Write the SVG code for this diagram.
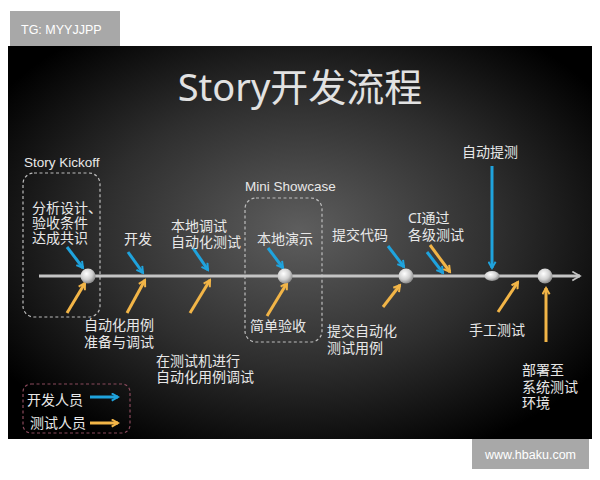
<svg xmlns="http://www.w3.org/2000/svg" width="600" height="480" viewBox="0 0 600 480">
<defs>
<radialGradient id="bg" cx="50%" cy="47%" r="62%">
<stop offset="0" stop-color="#5e5e5e"/>
<stop offset="0.55" stop-color="#2e2e2e"/>
<stop offset="1" stop-color="#000"/>
</radialGradient>
<radialGradient id="dot" cx="40%" cy="35%" r="65%">
<stop offset="0" stop-color="#ffffff"/>
<stop offset="0.6" stop-color="#d0d0d0"/>
<stop offset="1" stop-color="#8a8a8a"/>
</radialGradient>
<marker id="mb" viewBox="0 0 10 10" refX="8" refY="5" markerWidth="9" markerHeight="9" markerUnits="userSpaceOnUse" orient="auto">
<path d="M1,1 L8,5 L1,9" fill="none" stroke="#1fa3dd" stroke-width="2.2"/>
</marker>
<marker id="mo" viewBox="0 0 10 10" refX="8" refY="5" markerWidth="9" markerHeight="9" markerUnits="userSpaceOnUse" orient="auto">
<path d="M1,1 L8,5 L1,9" fill="none" stroke="#f2b547" stroke-width="2.2"/>
</marker>
<marker id="mg" viewBox="0 0 10 10" refX="8" refY="5" markerWidth="11" markerHeight="11" markerUnits="userSpaceOnUse" orient="auto">
<path d="M1,1 L8,5 L1,9" fill="none" stroke="#c4c4c4" stroke-width="1.6"/>
</marker>
</defs>
<style>
text{font-family:"Noto Sans","Noto Sans CJK SC",sans-serif;fill:#e8e8e8;}
.lbl{font-size:14px;}
.en{font-family:"Liberation Sans","Noto Sans CJK SC",sans-serif;font-size:13.5px;}
.dev{stroke:#1fa3dd;stroke-width:3;marker-end:url(#mb);fill:none;}
.qa{stroke:#f2b547;stroke-width:3;marker-end:url(#mo);fill:none;}
.box{fill:none;stroke:#bdbdbd;stroke-width:1.2;stroke-dasharray:3 2.5;}
.dot{fill:url(#dot);}
</style>
<rect x="0" y="0" width="600" height="480" fill="#ffffff"/>
<rect x="8" y="46" width="584" height="393" fill="url(#bg)"/>
<g id="tg">
<rect x="10" y="11" width="110" height="35" fill="#a8a8a8"/>
<text x="21" y="34" style="font-family:'Liberation Sans',sans-serif;font-size:12.5px;fill:#fff">TG: MYYJJPP</text>
</g>
<g id="wm">
<rect x="472" y="439" width="117" height="30" fill="#a8a8a8"/>
<text x="530.5" y="459" text-anchor="middle" style="font-family:'Liberation Sans',sans-serif;font-size:12.5px;fill:#fff">www.hbaku.com</text>
</g>
<text x="300" y="101" text-anchor="middle" style="font-size:38px;fill:#e2e2e2">Story开发流程</text>

<g id="kickoff">
<rect class="box" x="23" y="173" width="77" height="144" rx="11"/>
<text class="en" x="24" y="167">Story Kickoff</text>
</g>
<g id="showcase">
<rect class="box" x="245" y="198" width="77" height="144" rx="11"/>
<text class="en" x="245" y="191">Mini Showcase</text>
</g>
<g id="legend">
<rect x="23" y="384" width="107" height="49" rx="8" fill="none" stroke="#8a4a5c" stroke-width="1.2" stroke-dasharray="3 2.5"/>
<text class="lbl" x="27" y="405">开发人员</text>
<text class="lbl" x="30" y="428">测试人员</text>
<line class="dev" x1="90" y1="397" x2="118" y2="397"/>
<line class="qa" x1="90" y1="423" x2="118" y2="423"/>
</g>

<g id="connectors">
<line x1="39" y1="276" x2="580" y2="276" stroke="#c4c4c4" stroke-width="3" marker-end="url(#mg)"/>
<line class="dev" x1="67" y1="247" x2="83" y2="268"/>
<line class="dev" x1="128" y1="252" x2="143" y2="273"/>
<line class="dev" x1="193" y1="248" x2="208" y2="270"/>
<line class="dev" x1="268" y1="248" x2="283" y2="268"/>
<line class="dev" x1="388" y1="246" x2="404" y2="267"/>
<line class="dev" x1="427" y1="252" x2="443" y2="273"/>
<line class="dev" x1="492" y1="166" x2="492" y2="268"/>
<line class="qa" x1="67" y1="313" x2="85" y2="283"/>
<line class="qa" x1="127" y1="313" x2="145" y2="280"/>
<line class="qa" x1="190" y1="313" x2="210" y2="280"/>
<line class="qa" x1="267" y1="316" x2="287" y2="283"/>
<line class="qa" x1="383" y1="307" x2="400" y2="285"/>
<line class="qa" x1="430" y1="245" x2="450" y2="272"/>
<line class="qa" x1="498" y1="312" x2="518" y2="282"/>
<line class="qa" x1="546" y1="342" x2="546" y2="288"/>
</g>

<g id="n1"><circle class="dot" cx="88" cy="276" r="7.5"/>
<text class="lbl" x="32" y="213">分析设计、<tspan x="32" dy="15">验收条件</tspan><tspan x="32" dy="15">达成共识</tspan></text></g>
<g id="n2"><text class="lbl" x="124" y="244">开发</text></g>
<g id="n3"><text class="lbl" x="171" y="231">本地调试<tspan x="171" dy="16">自动化测试</tspan></text></g>
<g id="n4"><circle class="dot" cx="285" cy="276" r="7.5"/><text class="lbl" x="257" y="244">本地演示</text></g>
<g id="n5"><circle class="dot" cx="406" cy="276" r="7.5"/><text class="lbl" x="332" y="240">提交代码</text></g>
<g id="n6"><text class="lbl" x="408" y="223">CI通过<tspan x="408" dy="17">各级测试</tspan></text></g>
<g id="n7"><ellipse class="dot" cx="492" cy="276" rx="7.5" ry="5"/><text class="lbl" x="462" y="157">自动提测</text></g>
<g id="n8"><circle class="dot" cx="545" cy="276" r="7.5"/></g>
<g id="q1"><text class="lbl" x="84" y="330">自动化用例<tspan x="84" dy="17">准备与调试</tspan></text></g>
<g id="q2"><text class="lbl" x="156" y="366">在测试机进行<tspan x="156" dy="16">自动化用例调试</tspan></text></g>
<g id="q3"><text class="lbl" x="250" y="331">简单验收</text></g>
<g id="q4"><text class="lbl" x="327" y="336">提交自动化<tspan x="327" dy="17">测试用例</tspan></text></g>
<g id="q5"><text class="lbl" x="469" y="335">手工测试</text></g>
<g id="q6"><text class="lbl" x="522" y="375">部署至<tspan x="522" dy="17">系统测试</tspan><tspan x="522" dy="16">环境</tspan></text></g>
</svg>
